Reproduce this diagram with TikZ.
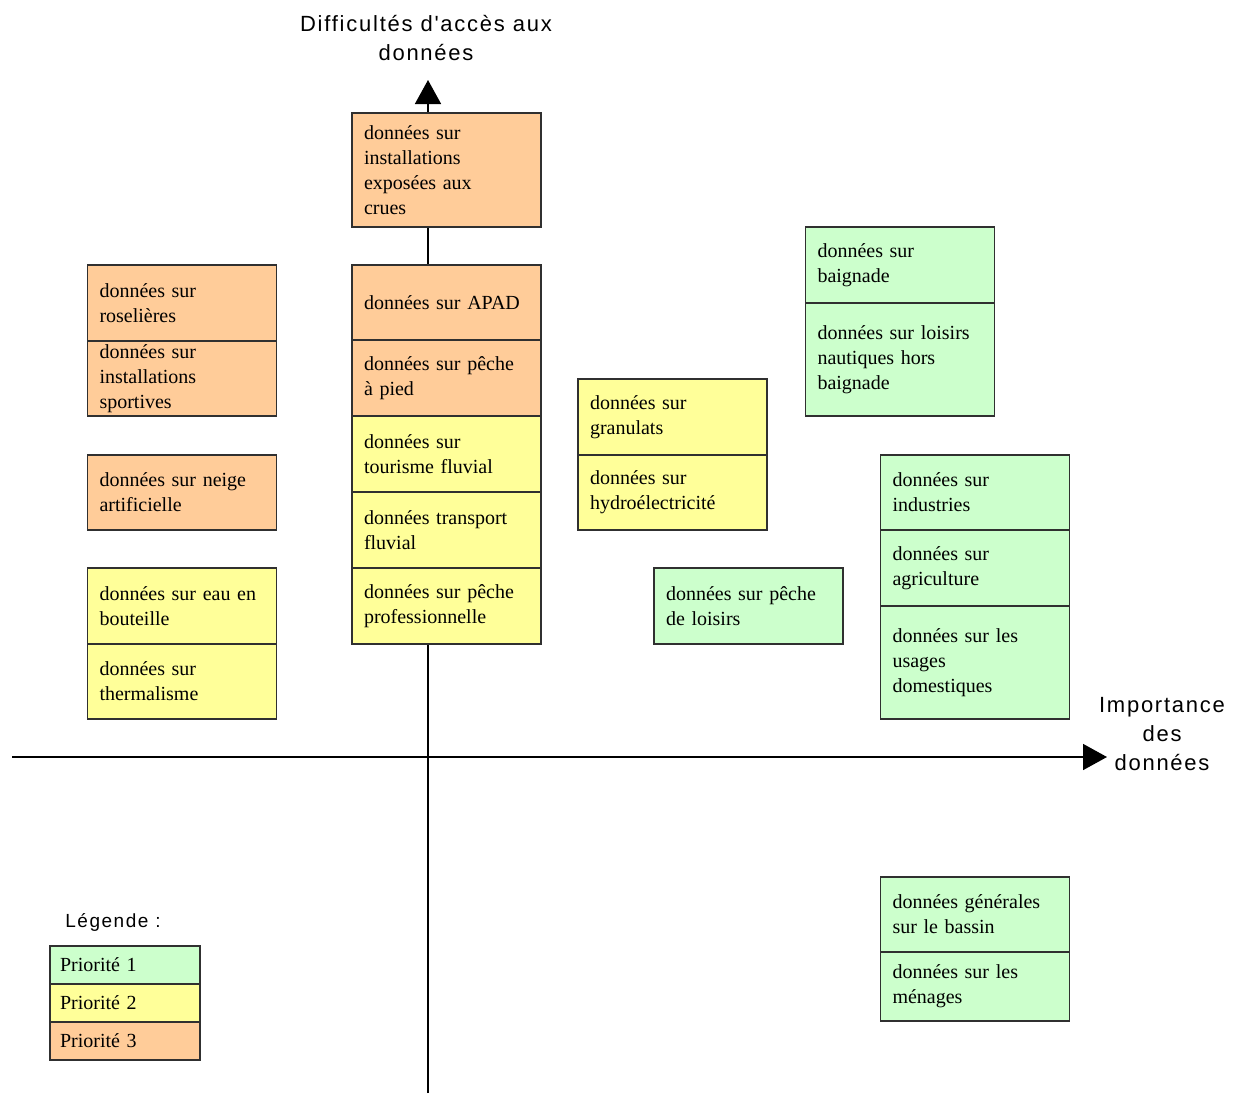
\documentclass[tikz,border=0pt]{standalone}
\usepackage{fontspec}
\setmainfont{Liberation Serif}
\newfontfamily\axisfont[LetterSpace=8]{Liberation Sans}
\usetikzlibrary{arrows.meta}

\definecolor{prioA}{HTML}{CCFFCC}
\definecolor{prioB}{HTML}{FFFF99}
\definecolor{prioC}{HTML}{FFCC99}
\definecolor{edge}{HTML}{303030}

\tikzset{
  databox/.style={draw=edge, line width=1.6pt, rectangle, inner xsep=12pt, inner ysep=0pt,
    minimum width=189pt, text width=165pt, align=left,
    font=\fontsize{20}{25}\selectfont},
  legbox/.style={draw=edge, line width=1.6pt, rectangle, inner xsep=10pt, inner ysep=0pt,
    minimum width=150pt, text width=130pt, minimum height=38pt, align=left,
    font=\fontsize{20}{25}\selectfont},
  axisline/.style={line width=1.6pt, -{Triangle[length=24pt,width=26pt]}},
  axislabel/.style={align=center, font=\axisfont\fontsize{22}{29}\selectfont, inner sep=0pt},
  p1/.style={fill=prioA},
  p2/.style={fill=prioB},
  p3/.style={fill=prioC},
}

\begin{document}
\begin{tikzpicture}[x=1pt,y=-1pt]
\useasboundingbox (0,0) rectangle (1239,1093);

% axes
\coordinate (ybot) at (428,1093);
\coordinate (ytop) at (428,80);
\coordinate (xleft) at (12,757);
\coordinate (xright) at (1107,757);
\draw[axisline] (ybot) -- (ytop);
\draw[axisline] (xleft) -- (xright);

\node[axislabel] (ylab) at (426,38) {Difficultés d'accès aux\\données};
\node[axislabel] (xlab) at (1162,734) {Importance\\des\\données};

% central column
\node[databox,p3,minimum height=114pt] (crues) at (446.5,170) {données sur\\installations\\exposées aux\\crues};
\node[databox,p3,minimum height=75pt] (apad) at (446.5,302.5) {données sur APAD};
\node[databox,p3,minimum height=76pt] (pied) at (446.5,378) {données sur pêche\\à pied};
\node[databox,p2,minimum height=76pt] (tourisme) at (446.5,454) {données sur\\tourisme fluvial};
\node[databox,p2,minimum height=76pt] (transport) at (446.5,530) {données transport\\fluvial};
\node[databox,p2,minimum height=76pt] (pro) at (446.5,606) {données sur pêche\\professionnelle};

% left column
\node[databox,p3,minimum height=76pt] (roseaux) at (182,303) {données sur\\roselières};
\node[databox,p3,minimum height=75pt] (sport) at (182,378.5) {données sur\\installations\\sportives};
\node[databox,p3,minimum height=75pt] (neige) at (182,492.5) {données sur neige\\artificielle};
\node[databox,p2,minimum height=76pt] (bouteille) at (182,606) {données sur eau en\\bouteille};
\node[databox,p2,minimum height=75pt] (thermes) at (182,681.5) {données sur\\thermalisme};

% middle column
\node[databox,p2,minimum height=76pt] (granulats) at (672.5,417) {données sur\\granulats};
\node[databox,p2,minimum height=75pt] (hydro) at (672.5,492.5) {données sur\\hydroélectricité};
\node[databox,p1,minimum height=76pt] (loisirs) at (748.5,606) {données sur pêche\\de loisirs};

% right columns
\node[databox,p1,minimum height=76pt] (baignade) at (900,265) {données sur\\baignade};
\node[databox,p1,minimum height=113pt] (nautique) at (900,359.5) {données sur loisirs\\nautiques hors\\baignade};
\node[databox,p1,minimum height=75pt] (industrie) at (975,492.5) {données sur\\industries};
\node[databox,p1,minimum height=76pt] (agri) at (975,568) {données sur\\agriculture};
\node[databox,p1,minimum height=113pt] (domestique) at (975,662.5) {données sur les\\usages\\domestiques};
\node[databox,p1,minimum height=75pt] (bassin) at (975,914.5) {données générales\\sur le bassin};
\node[databox,p1,minimum height=69pt] (menages) at (975,986.5) {données sur les\\ménages};

% legend
\node[font=\axisfont\fontsize{19}{23}\selectfont, inner sep=0pt] (legtitle) at (113,922) {Légende :};
\node[legbox,p1] (leg1) at (125,965) {Priorité 1};
\node[legbox,p2] (leg2) at (125,1003) {Priorité 2};
\node[legbox,p3] (leg3) at (125,1041) {Priorité 3};
\end{tikzpicture}
\end{document}
